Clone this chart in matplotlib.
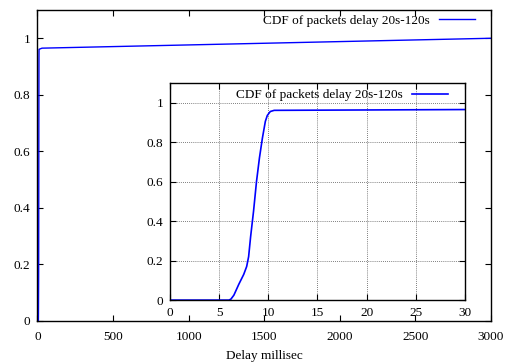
import matplotlib
matplotlib.use("Agg")
import matplotlib.pyplot as plt

# CDF of packet delay
delay_ms = [0, 6.0, 6.2, 6.5, 7.0, 7.5, 7.8, 8.0, 8.2, 8.5, 8.8, 9.1, 9.4,
            9.7, 9.9, 10.2, 10.6, 30, 3000]
cdf = [0, 0, 0.005, 0.025, 0.08, 0.13, 0.17, 0.22, 0.32, 0.45, 0.6, 0.72, 0.82,
       0.905, 0.935, 0.955, 0.961, 0.965, 1.0]
label = "CDF of packets delay 20s-120s"

main_xticks = [0, 500, 1000, 1500, 2000, 2500, 3000]
inset_xticks = [0, 5, 10, 15, 20, 25, 30]
yticks = [0, 0.2, 0.4, 0.6, 0.8, 1]
ytick_labels = ["0", "0.2", "0.4", "0.6", "0.8", "1"]

plt.rcParams["font.family"] = ["Liberation Serif", "DejaVu Serif"]
plt.rcParams["font.size"] = 9.5

fig = plt.figure(figsize=(5.12, 3.62), dpi=100)


def style(ax, xpad=5):
    ax.tick_params(direction="in", top=True, right=True, length=4, width=0.8, pad=5)
    ax.tick_params(axis="x", pad=xpad)
    for s in ax.spines.values():
        s.set_linewidth(1.0)


ax = fig.add_axes([0.0732, 0.1133, 0.8857, 0.8591])
ax.plot(delay_ms, cdf, color="#0000ff", lw=1.0, label=label)
ax.set_xlim(0, 3000)
ax.set_ylim(0, 1.1)
ax.set_xticks(main_xticks)
ax.set_yticks(yticks)
ax.set_yticklabels(ytick_labels)
ax.set_xlabel("Delay millisec", labelpad=5)
style(ax, xpad=7)
ax.legend(loc="upper right", bbox_to_anchor=(0.965, 0.986), frameon=False,
          markerfirst=False, handlelength=2.7, borderpad=0, borderaxespad=0,
          handletextpad=0.7)

ins = fig.add_axes([0.332, 0.171, 0.576, 0.600])
ins.plot(delay_ms, cdf, color="#0000ff", lw=1.2, label=label)
ins.set_xlim(0, 30)
ins.set_ylim(0, 1.1)
ins.set_xticks(inset_xticks)
ins.set_yticks(yticks)
ins.set_yticklabels(ytick_labels)
ins.grid(True, color="#555555", linestyle=(0, (1, 1.5)), linewidth=0.6)
style(ins)
ins.legend(loc="upper right", bbox_to_anchor=(0.942, 0.972), frameon=False,
           markerfirst=False, handlelength=2.7, borderpad=0, borderaxespad=0,
           handletextpad=0.7)

fig.savefig("out.png", dpi=100)
